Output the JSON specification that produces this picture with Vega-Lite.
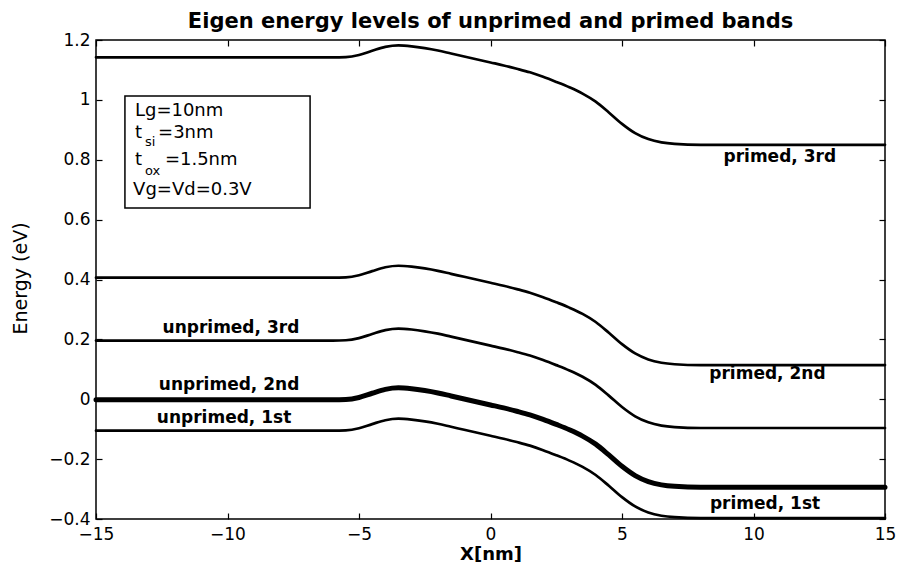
{
  "$schema": "https://vega.github.io/schema/vega-lite/v6.json",
  "width": 789,
  "height": 479,
  "autosize": {"type": "none"},
  "padding": {"left": 96, "top": 40, "right": 14, "bottom": 46},
  "background": "white",
  "title": {
    "text": "Eigen energy levels of unprimed and primed bands",
    "font": "DejaVu Sans",
    "fontSize": 21,
    "fontWeight": "bold",
    "color": "#000",
    "anchor": "middle",
    "offset": -1
  },
  "config": {
    "view": {"stroke": "#000", "strokeWidth": 1.5},
    "axis": {
      "grid": false,
      "domain": false,
      "tickColor": "#000",
      "tickWidth": 1.2,
      "tickSize": -6,
      "labelFont": "DejaVu Sans",
      "labelFontSize": 17,
      "labelColor": "#000",
      "labelFlush": false,
      "labelOverlap": false,
      "labelBound": false,
      "titleColor": "#000"
    }
  },
  "datasets": {
    "levels": [
      {"x": -15, "e": 1.142, "level": "L5"}, {"x": -6, "e": 1.142, "level": "L5"}, {"x": -5.5, "e": 1.143, "level": "L5"},
      {"x": -5, "e": 1.150, "level": "L5"}, {"x": -4.5, "e": 1.164, "level": "L5"}, {"x": -4, "e": 1.177, "level": "L5"},
      {"x": -3.5, "e": 1.182, "level": "L5"}, {"x": -3, "e": 1.179, "level": "L5"}, {"x": -2.5, "e": 1.173, "level": "L5"},
      {"x": -2, "e": 1.165, "level": "L5"}, {"x": -1.5, "e": 1.155, "level": "L5"}, {"x": -1, "e": 1.145, "level": "L5"},
      {"x": -0.5, "e": 1.135, "level": "L5"}, {"x": 0, "e": 1.125, "level": "L5"}, {"x": 0.5, "e": 1.115, "level": "L5"},
      {"x": 1, "e": 1.104, "level": "L5"}, {"x": 1.5, "e": 1.092, "level": "L5"}, {"x": 2, "e": 1.077, "level": "L5"},
      {"x": 2.5, "e": 1.060, "level": "L5"}, {"x": 3, "e": 1.042, "level": "L5"}, {"x": 3.5, "e": 1.021, "level": "L5"},
      {"x": 4, "e": 0.994, "level": "L5"}, {"x": 4.5, "e": 0.958, "level": "L5"}, {"x": 5, "e": 0.920, "level": "L5"},
      {"x": 5.5, "e": 0.889, "level": "L5"}, {"x": 6, "e": 0.869, "level": "L5"}, {"x": 6.5, "e": 0.858, "level": "L5"},
      {"x": 7, "e": 0.853, "level": "L5"}, {"x": 8, "e": 0.850, "level": "L5"}, {"x": 15, "e": 0.850, "level": "L5"},

      {"x": -15, "e": 0.406, "level": "L4"}, {"x": -6, "e": 0.406, "level": "L4"}, {"x": -5.5, "e": 0.407, "level": "L4"},
      {"x": -5, "e": 0.414, "level": "L4"}, {"x": -4.5, "e": 0.428, "level": "L4"}, {"x": -4, "e": 0.441, "level": "L4"},
      {"x": -3.5, "e": 0.446, "level": "L4"}, {"x": -3, "e": 0.443, "level": "L4"}, {"x": -2.5, "e": 0.437, "level": "L4"},
      {"x": -2, "e": 0.429, "level": "L4"}, {"x": -1.5, "e": 0.419, "level": "L4"}, {"x": -1, "e": 0.409, "level": "L4"},
      {"x": -0.5, "e": 0.399, "level": "L4"}, {"x": 0, "e": 0.389, "level": "L4"}, {"x": 0.5, "e": 0.379, "level": "L4"},
      {"x": 1, "e": 0.368, "level": "L4"}, {"x": 1.5, "e": 0.356, "level": "L4"}, {"x": 2, "e": 0.341, "level": "L4"},
      {"x": 2.5, "e": 0.324, "level": "L4"}, {"x": 3, "e": 0.306, "level": "L4"}, {"x": 3.5, "e": 0.285, "level": "L4"},
      {"x": 4, "e": 0.258, "level": "L4"}, {"x": 4.5, "e": 0.222, "level": "L4"}, {"x": 5, "e": 0.184, "level": "L4"},
      {"x": 5.5, "e": 0.153, "level": "L4"}, {"x": 6, "e": 0.133, "level": "L4"}, {"x": 6.5, "e": 0.122, "level": "L4"},
      {"x": 7, "e": 0.117, "level": "L4"}, {"x": 8, "e": 0.114, "level": "L4"}, {"x": 15, "e": 0.114, "level": "L4"},

      {"x": -15, "e": 0.196, "level": "L3"}, {"x": -6, "e": 0.196, "level": "L3"}, {"x": -5.5, "e": 0.197, "level": "L3"},
      {"x": -5, "e": 0.204, "level": "L3"}, {"x": -4.5, "e": 0.218, "level": "L3"}, {"x": -4, "e": 0.231, "level": "L3"},
      {"x": -3.5, "e": 0.236, "level": "L3"}, {"x": -3, "e": 0.233, "level": "L3"}, {"x": -2.5, "e": 0.227, "level": "L3"},
      {"x": -2, "e": 0.219, "level": "L3"}, {"x": -1.5, "e": 0.209, "level": "L3"}, {"x": -1, "e": 0.199, "level": "L3"},
      {"x": -0.5, "e": 0.189, "level": "L3"}, {"x": 0, "e": 0.179, "level": "L3"}, {"x": 0.5, "e": 0.169, "level": "L3"},
      {"x": 1, "e": 0.158, "level": "L3"}, {"x": 1.5, "e": 0.146, "level": "L3"}, {"x": 2, "e": 0.131, "level": "L3"},
      {"x": 2.5, "e": 0.114, "level": "L3"}, {"x": 3, "e": 0.096, "level": "L3"}, {"x": 3.5, "e": 0.075, "level": "L3"},
      {"x": 4, "e": 0.048, "level": "L3"}, {"x": 4.5, "e": 0.012, "level": "L3"}, {"x": 5, "e": -0.026, "level": "L3"},
      {"x": 5.5, "e": -0.057, "level": "L3"}, {"x": 6, "e": -0.077, "level": "L3"}, {"x": 6.5, "e": -0.088, "level": "L3"},
      {"x": 7, "e": -0.093, "level": "L3"}, {"x": 8, "e": -0.096, "level": "L3"}, {"x": 15, "e": -0.096, "level": "L3"},

      {"x": -15, "e": -0.002, "level": "L2"}, {"x": -6, "e": -0.002, "level": "L2"}, {"x": -5.5, "e": -0.001, "level": "L2"},
      {"x": -5, "e": 0.006, "level": "L2"}, {"x": -4.5, "e": 0.020, "level": "L2"}, {"x": -4, "e": 0.033, "level": "L2"},
      {"x": -3.5, "e": 0.038, "level": "L2"}, {"x": -3, "e": 0.035, "level": "L2"}, {"x": -2.5, "e": 0.029, "level": "L2"},
      {"x": -2, "e": 0.021, "level": "L2"}, {"x": -1.5, "e": 0.011, "level": "L2"}, {"x": -1, "e": 0.001, "level": "L2"},
      {"x": -0.5, "e": -0.009, "level": "L2"}, {"x": 0, "e": -0.019, "level": "L2"}, {"x": 0.5, "e": -0.029, "level": "L2"},
      {"x": 1, "e": -0.040, "level": "L2"}, {"x": 1.5, "e": -0.052, "level": "L2"}, {"x": 2, "e": -0.067, "level": "L2"},
      {"x": 2.5, "e": -0.084, "level": "L2"}, {"x": 3, "e": -0.102, "level": "L2"}, {"x": 3.5, "e": -0.123, "level": "L2"},
      {"x": 4, "e": -0.150, "level": "L2"}, {"x": 4.5, "e": -0.186, "level": "L2"}, {"x": 5, "e": -0.224, "level": "L2"},
      {"x": 5.5, "e": -0.255, "level": "L2"}, {"x": 6, "e": -0.275, "level": "L2"}, {"x": 6.5, "e": -0.286, "level": "L2"},
      {"x": 7, "e": -0.291, "level": "L2"}, {"x": 8, "e": -0.294, "level": "L2"}, {"x": 15, "e": -0.294, "level": "L2"},

      {"x": -15, "e": -0.105, "level": "L1"}, {"x": -6, "e": -0.105, "level": "L1"}, {"x": -5.5, "e": -0.104, "level": "L1"},
      {"x": -5, "e": -0.097, "level": "L1"}, {"x": -4.5, "e": -0.083, "level": "L1"}, {"x": -4, "e": -0.070, "level": "L1"},
      {"x": -3.5, "e": -0.065, "level": "L1"}, {"x": -3, "e": -0.068, "level": "L1"}, {"x": -2.5, "e": -0.074, "level": "L1"},
      {"x": -2, "e": -0.082, "level": "L1"}, {"x": -1.5, "e": -0.092, "level": "L1"}, {"x": -1, "e": -0.102, "level": "L1"},
      {"x": -0.5, "e": -0.112, "level": "L1"}, {"x": 0, "e": -0.122, "level": "L1"}, {"x": 0.5, "e": -0.132, "level": "L1"},
      {"x": 1, "e": -0.143, "level": "L1"}, {"x": 1.5, "e": -0.155, "level": "L1"}, {"x": 2, "e": -0.170, "level": "L1"},
      {"x": 2.5, "e": -0.187, "level": "L1"}, {"x": 3, "e": -0.205, "level": "L1"}, {"x": 3.5, "e": -0.226, "level": "L1"},
      {"x": 4, "e": -0.253, "level": "L1"}, {"x": 4.5, "e": -0.289, "level": "L1"}, {"x": 5, "e": -0.327, "level": "L1"},
      {"x": 5.5, "e": -0.358, "level": "L1"}, {"x": 6, "e": -0.378, "level": "L1"}, {"x": 6.5, "e": -0.389, "level": "L1"},
      {"x": 7, "e": -0.394, "level": "L1"}, {"x": 8, "e": -0.397, "level": "L1"}, {"x": 15, "e": -0.397, "level": "L1"}
    ],
    "bandLabels": [
      {"x": 11.0, "e": 0.792, "text": "primed, 3rd"},
      {"x": 10.53, "e": 0.068, "text": "primed, 2nd"},
      {"x": 10.44, "e": -0.366, "text": "primed, 1st"},
      {"x": -9.87, "e": 0.221, "text": "unprimed, 3rd"},
      {"x": -9.94, "e": 0.031, "text": "unprimed, 2nd"},
      {"x": -10.13, "e": -0.079, "text": "unprimed, 1st"}
    ],
    "box": [{"x0": -13.9, "x1": -6.86, "e0": 0.639, "e1": 1.013}],
    "notes": [
      {"x": -13.52, "e": 0.9462, "text": "Lg=10nm"},
      {"x": -13.52, "e": 0.8727, "text": "t"},
      {"x": -12.64, "e": 0.8727, "text": "=3nm"},
      {"x": -13.52, "e": 0.7825, "text": "t"},
      {"x": -12.38, "e": 0.7825, "text": "=1.5nm"},
      {"x": -13.59, "e": 0.6823, "text": "Vg=Vd=0.3V"}
    ],
    "subs": [
      {"x": -13.14, "e": 0.8460, "text": "si"},
      {"x": -13.14, "e": 0.7491, "text": "ox"}
    ]
  },
  "resolve": {"axis": {"x": "independent", "y": "independent"}},
  "layer": [
    {
      "data": {"name": "levels"},
      "mark": {"type": "line", "interpolate": "monotone", "color": "#000", "strokeCap": "round"},
      "encoding": {
        "x": {
          "field": "x", "type": "quantitative",
          "scale": {"domain": [-15, 15], "nice": false, "zero": false},
          "axis": {
            "orient": "bottom",
            "values": [-15, -10, -5, 0, 5, 10, 15],
            "format": "d",
            "labelPadding": 13,
            "title": "X[nm]",
            "titleFont": "DejaVu Sans",
            "titleFontSize": 18,
            "titleFontWeight": "bold",
            "titleX": 394.5,
            "titleY": 40,
            "titleBaseline": "alphabetic",
            "titleAlign": "center"
          }
        },
        "y": {
          "field": "e", "type": "quantitative",
          "scale": {"domain": [-0.4, 1.2], "nice": false, "zero": false},
          "axis": {
            "orient": "left",
            "values": [-0.4, -0.2, 0, 0.2, 0.4, 0.6, 0.8, 1, 1.2],
            "format": "~g",
            "labelPadding": 12,
            "title": "Energy (eV)",
            "titleFont": "DejaVu Sans",
            "titleFontSize": 19,
            "titleFontWeight": "normal",
            "titleAngle": 270,
            "titleX": -76,
            "titleY": 238,
            "titleBaseline": "middle",
            "titleAlign": "center"
          }
        },
        "detail": {"field": "level"},
        "strokeWidth": {
          "condition": {"test": "datum.level === 'L2'", "value": 5},
          "value": 2.7
        }
      }
    },
    {
      "data": {"name": "box"},
      "mark": {"type": "rect", "fill": null, "stroke": "#000", "strokeWidth": 1.5},
      "encoding": {
        "x": {
          "field": "x0", "type": "quantitative",
          "scale": {"domain": [-15, 15], "nice": false, "zero": false},
          "axis": {"orient": "top", "values": [-15, -10, -5, 0, 5, 10, 15], "labels": false, "title": null}
        },
        "x2": {"field": "x1"},
        "y": {
          "field": "e0", "type": "quantitative",
          "scale": {"domain": [-0.4, 1.2], "nice": false, "zero": false},
          "axis": {"orient": "right", "values": [-0.4, -0.2, 0, 0.2, 0.4, 0.6, 0.8, 1, 1.2], "labels": false, "title": null}
        },
        "y2": {"field": "e1"}
      }
    },
    {
      "data": {"name": "bandLabels"},
      "mark": {"type": "text", "font": "DejaVu Sans", "fontSize": 17, "fontWeight": "bold", "color": "#000", "align": "center", "baseline": "alphabetic"},
      "encoding": {
        "x": {"field": "x", "type": "quantitative", "scale": {"domain": [-15, 15], "nice": false, "zero": false}, "axis": null},
        "y": {"field": "e", "type": "quantitative", "scale": {"domain": [-0.4, 1.2], "nice": false, "zero": false}, "axis": null},
        "text": {"field": "text"}
      }
    },
    {
      "data": {"name": "notes"},
      "mark": {"type": "text", "font": "DejaVu Sans", "fontSize": 18, "color": "#000", "align": "left", "baseline": "alphabetic"},
      "encoding": {
        "x": {"field": "x", "type": "quantitative", "scale": {"domain": [-15, 15], "nice": false, "zero": false}, "axis": null},
        "y": {"field": "e", "type": "quantitative", "scale": {"domain": [-0.4, 1.2], "nice": false, "zero": false}, "axis": null},
        "text": {"field": "text"}
      }
    },
    {
      "data": {"name": "subs"},
      "mark": {"type": "text", "font": "DejaVu Sans", "fontSize": 13, "color": "#000", "align": "left", "baseline": "alphabetic"},
      "encoding": {
        "x": {"field": "x", "type": "quantitative", "scale": {"domain": [-15, 15], "nice": false, "zero": false}, "axis": null},
        "y": {"field": "e", "type": "quantitative", "scale": {"domain": [-0.4, 1.2], "nice": false, "zero": false}, "axis": null},
        "text": {"field": "text"}
      }
    }
  ]
}
